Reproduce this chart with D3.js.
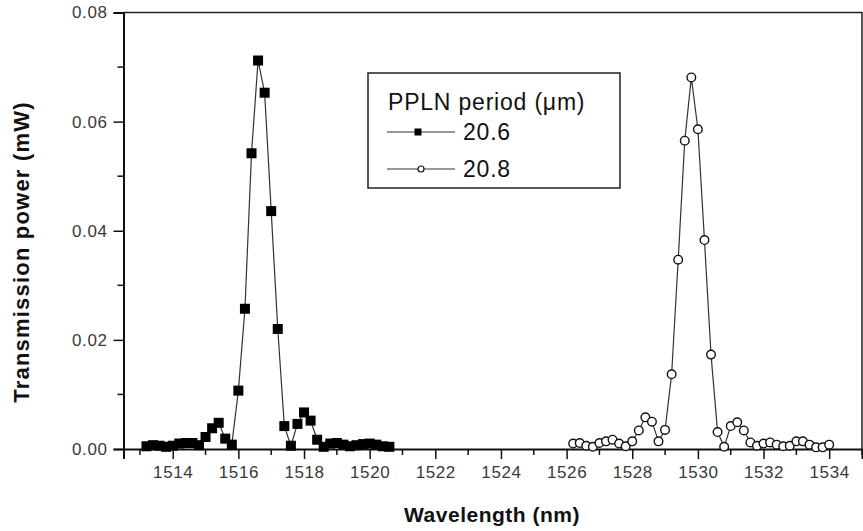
<!DOCTYPE html>
<html><head><meta charset="utf-8">
<script src="https://cdn.jsdelivr.net/npm/d3@7"></script>
<style>
body{margin:0;background:#fff;}
svg{display:block;font-family:"Liberation Sans",Arial,sans-serif;}
</style></head>
<body><svg id="chart" width="863" height="531"></svg>
<script>
const wavelength206 = [1513.2,1513.4,1513.6,1513.8,1514.0,1514.2,1514.4,1514.6,1514.8,1515.0,1515.2,1515.4,1515.6,1515.8,1516.0,1516.2,1516.4,1516.6,1516.8,1517.0,1517.2,1517.4,1517.6,1517.8,1518.0,1518.2,1518.4,1518.6,1518.8,1519.0,1519.2,1519.4,1519.6,1519.8,1520.0,1520.2,1520.4,1520.6];
const power206 = [0.0005,0.0007,0.0006,0.0004,0.0006,0.0010,0.0011,0.0011,0.0007,0.0022,0.0038,0.0048,0.0019,0.0008,0.0107,0.0257,0.0542,0.0712,0.0653,0.0436,0.0220,0.0042,0.0006,0.0046,0.0067,0.0052,0.0017,0.0004,0.0010,0.0011,0.0008,0.0005,0.0007,0.0009,0.0010,0.0008,0.0005,0.0004];
const wavelength208 = [1526.2,1526.4,1526.6,1526.8,1527.0,1527.2,1527.4,1527.6,1527.8,1528.0,1528.2,1528.4,1528.6,1528.8,1529.0,1529.2,1529.4,1529.6,1529.8,1530.0,1530.2,1530.4,1530.6,1530.8,1531.0,1531.2,1531.4,1531.6,1531.8,1532.0,1532.2,1532.4,1532.6,1532.8,1533.0,1533.2,1533.4,1533.6,1533.8,1534.0];
const power208 = [0.0010,0.0011,0.0006,0.0004,0.0011,0.0014,0.0017,0.0010,0.0005,0.0014,0.0034,0.0058,0.0050,0.0014,0.0035,0.0137,0.0347,0.0565,0.0681,0.0586,0.0383,0.0173,0.0031,0.0004,0.0042,0.0049,0.0034,0.0012,0.0006,0.0010,0.0012,0.0008,0.0005,0.0006,0.0014,0.0014,0.0008,0.0003,0.0003,0.0008];
const xTickValues = [1514,1516,1518,1520,1522,1524,1526,1528,1530,1532,1534];
const yTickValues = [0.00,0.02,0.04,0.06,0.08];
const legendTitle = "PPLN period (\u03BCm)";
const seriesNames = ["20.6","20.8"];
const xTitle = "Wavelength (nm)";
const yTitle = "Transmission power (mW)";

const svg = d3.select("#chart");
const L = 123.5, R = 862, T = 12.5, B = 449;
const x = d3.scaleLinear().domain([1512.5,1535]).range([L,R]);
const y = d3.scaleLinear().domain([0,0.08]).range([B,T]);

// frame top/right
svg.append("path").attr("d",`M${L},${T}H${R}V${B}`).attr("fill","none").attr("stroke","#222").attr("stroke-width",1.5);

// x axis
const xMinor = d3.range(1513,1536,2);
const gx = svg.append("g").attr("transform",`translate(0,${B})`);
gx.call(d3.axisBottom(x).tickValues(xTickValues).tickFormat(d3.format("d")).tickSize(10).tickPadding(7));
gx.append("g").selectAll("line").data(xMinor).join("line")
  .attr("x1",d=>x(d)).attr("x2",d=>x(d)).attr("y1",0).attr("y2",6).attr("stroke","#111").attr("stroke-width",1.5);
// y axis
const yMinor = [0.01,0.03,0.05,0.07];
const gy = svg.append("g").attr("transform",`translate(${L},0)`);
gy.call(d3.axisLeft(y).tickValues(yTickValues).tickFormat(d3.format(".2f")).tickSize(10).tickPadding(6));
gy.append("g").selectAll("line").data(yMinor).join("line")
  .attr("y1",d=>y(d)).attr("y2",d=>y(d)).attr("x1",0).attr("x2",-6).attr("stroke","#111").attr("stroke-width",1.5);
[gx,gy].forEach(g=>{
  g.select(".domain").attr("stroke","#111").attr("stroke-width",2);
  g.selectAll(".tick line").attr("stroke","#111").attr("stroke-width",1.5);
  g.selectAll(".tick text").attr("font-size",17).attr("fill","#3a3a3a").attr("letter-spacing","0.6px")
    .attr("font-family","Liberation Sans, Arial, sans-serif");
});

// axis titles
svg.append("text").attr("x",492).attr("y",522).attr("text-anchor","middle")
  .attr("font-size",21).attr("font-weight","bold").attr("letter-spacing","0.5px").attr("fill","#111").text(xTitle);
svg.append("text").attr("transform","translate(29,252) rotate(-90)").attr("text-anchor","middle")
  .attr("font-size",22).attr("font-weight","bold").attr("letter-spacing","1.2px").attr("fill","#111").text(yTitle);

// data
const d206 = wavelength206.map((w,i)=>({w,v:power206[i]}));
const d208 = wavelength208.map((w,i)=>({w,v:power208[i]}));
const line = d3.line().x(d=>x(d.w)).y(d=>y(d.v));
svg.append("path").datum(d206).attr("d",line).attr("fill","none").attr("stroke","#333").attr("stroke-width",1.2);
svg.append("path").datum(d208).attr("d",line).attr("fill","none").attr("stroke","#333").attr("stroke-width",1.2);
const sq = 10;
svg.append("g").selectAll("rect").data(d206).join("rect")
  .attr("x",d=>x(d.w)-sq/2).attr("y",d=>y(d.v)-sq/2).attr("width",sq).attr("height",sq).attr("fill","#000");
svg.append("g").selectAll("circle").data(d208).join("circle")
  .attr("cx",d=>x(d.w)).attr("cy",d=>y(d.v)).attr("r",4.3).attr("fill","#fff").attr("stroke","#111").attr("stroke-width",1.4);

// legend
const lg = svg.append("g");
lg.append("rect").attr("x",368).attr("y",73).attr("width",252).attr("height",115).attr("fill","#fff").attr("stroke","#222").attr("stroke-width",1.5);
lg.append("text").attr("x",388).attr("y",110).attr("font-size",23).attr("letter-spacing","0.8px").attr("fill","#111").text(legendTitle);
const rowsY = [132,169];
lg.selectAll("line.lgl").data(rowsY).join("line").attr("class","lgl")
  .attr("x1",387).attr("x2",455).attr("y1",d=>d).attr("y2",d=>d).attr("stroke","#333").attr("stroke-width",1.2);
lg.append("rect").attr("x",418-3.5).attr("y",rowsY[0]-3.5).attr("width",7).attr("height",7).attr("fill","#000");
lg.append("circle").attr("cx",421).attr("cy",rowsY[1]).attr("r",3).attr("fill","#fff").attr("stroke","#111").attr("stroke-width",1.2);
lg.selectAll("text.lgt").data(seriesNames).join("text").attr("class","lgt")
  .attr("x",463).attr("y",(d,i)=>rowsY[i]+8).attr("font-size",23).attr("letter-spacing","0.8px").attr("fill","#111").text(d=>d);
</script></body></html>
